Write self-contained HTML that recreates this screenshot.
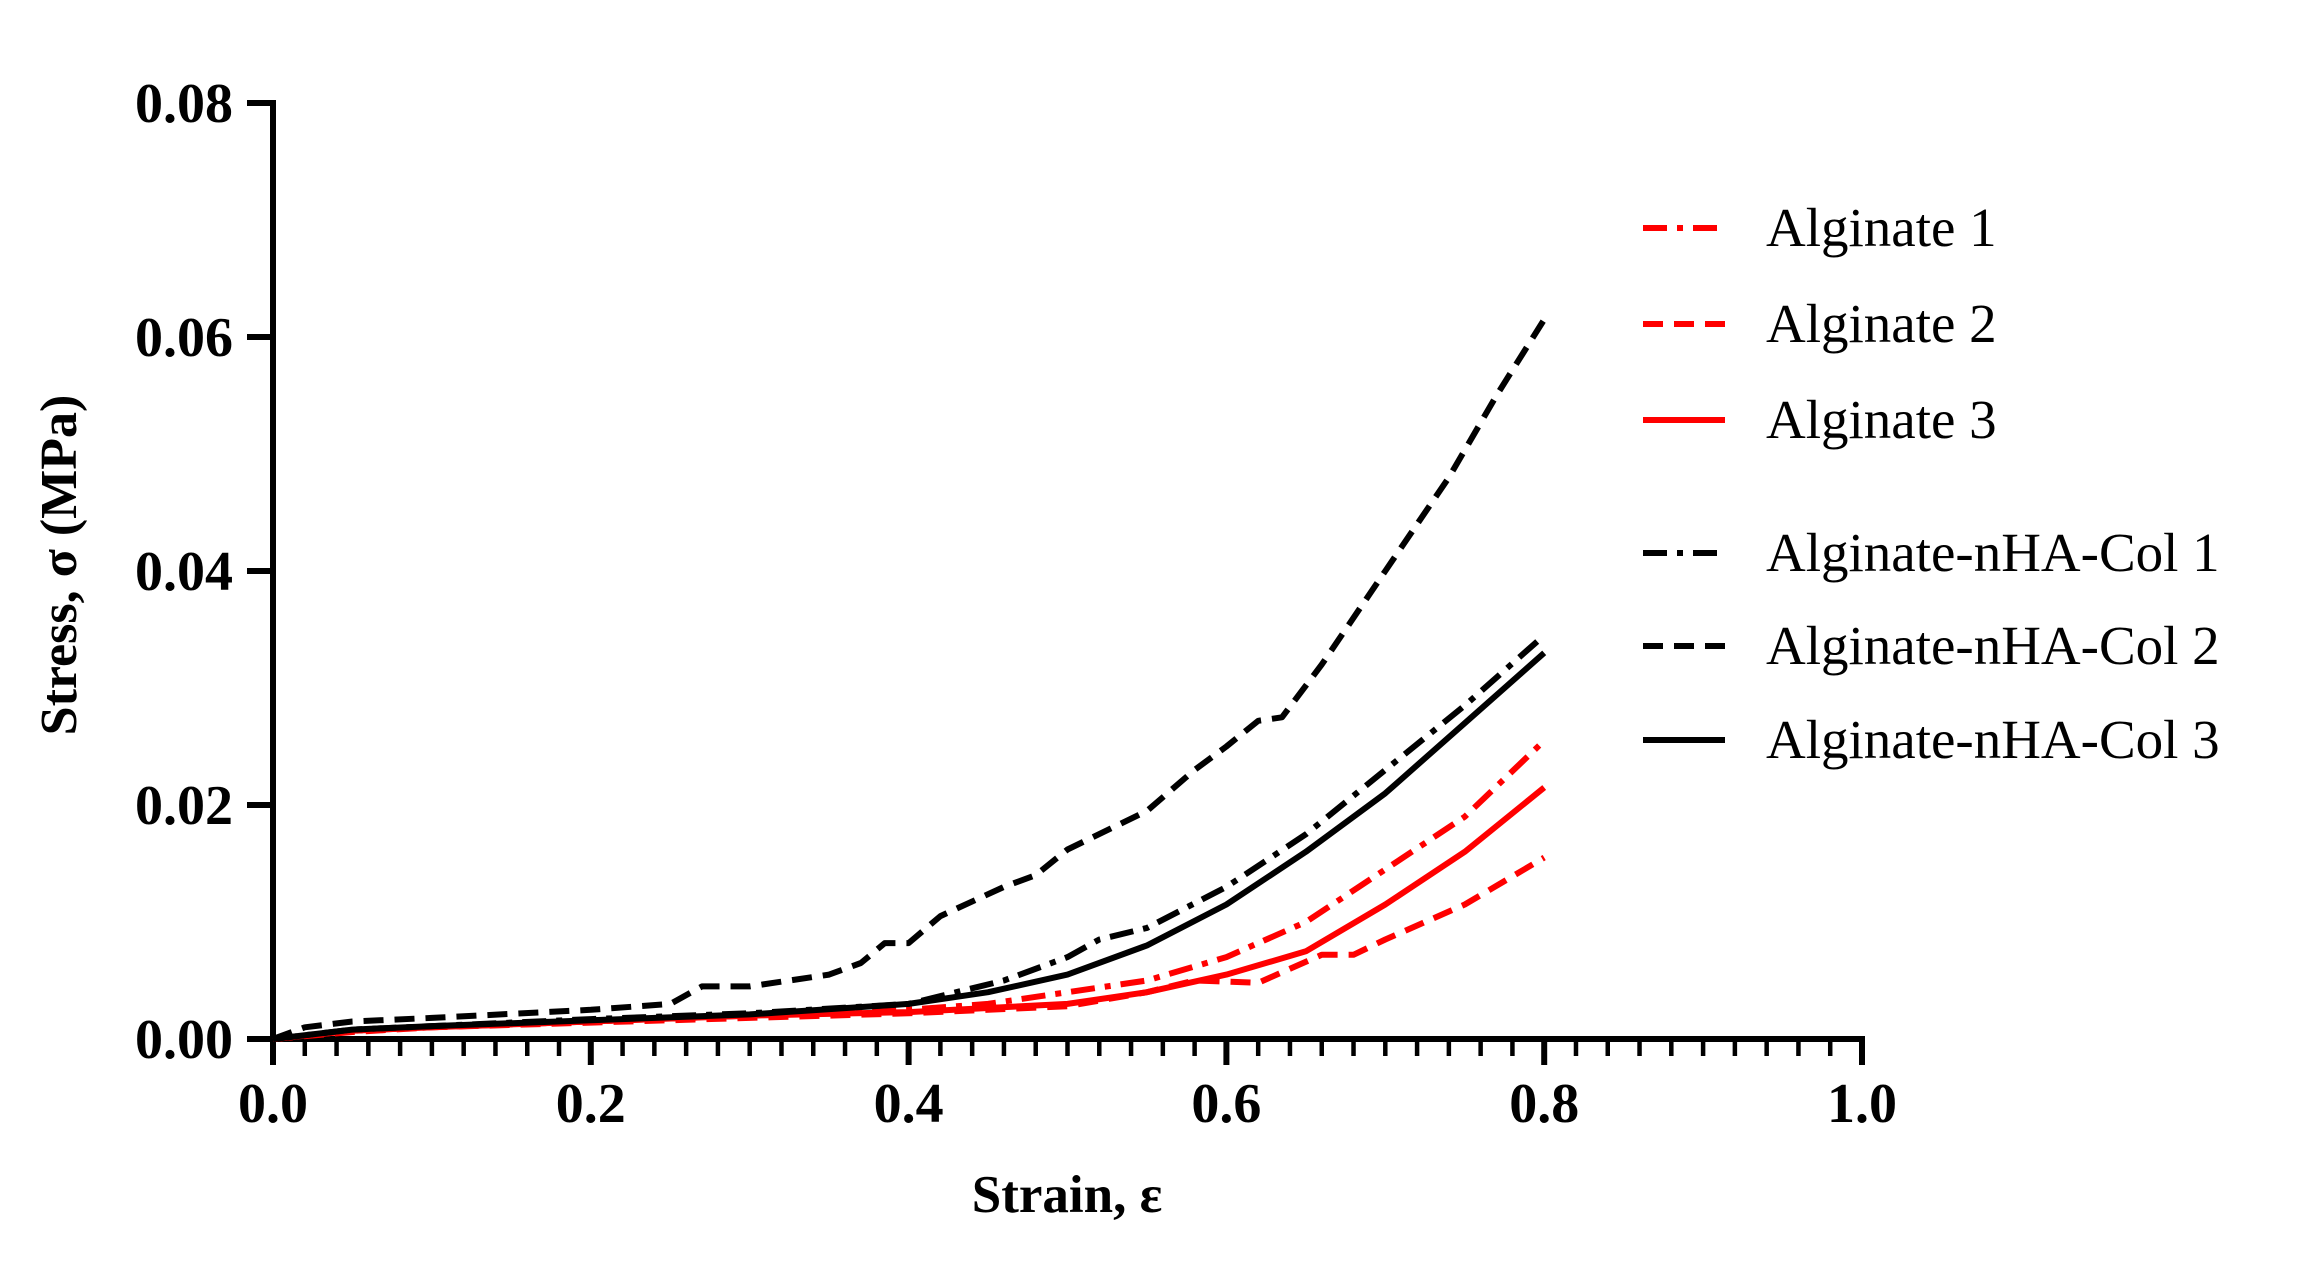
<!DOCTYPE html>
<html><head><meta charset="utf-8"><style>
html,body{margin:0;padding:0;background:#fff;}
svg{display:block;}
text{font-family:"Liberation Serif",serif;}
</style></head><body>
<svg id="chart" width="2308" height="1271" viewBox="0 0 2308 1271" xmlns="http://www.w3.org/2000/svg">
<g id="axes"></g>
<g id="series"></g>
<g id="legend"></g>
<text transform="translate(76,565) rotate(-90)" text-anchor="middle" font-weight="bold" font-size="52">Stress, σ (MPa)</text>
<text x="1067" y="1212" text-anchor="middle" font-weight="bold" font-size="53">Strain, ε</text>
</svg>
<script>
const xTicks=[0,0.2,0.4,0.6,0.8,1.0];
const xTickLabels=["0.0","0.2","0.4","0.6","0.8","1.0"];
const yTicks=[0,0.02,0.04,0.06,0.08];
const yTickLabels=["0.00","0.02","0.04","0.06","0.08"];
const seriesNames=["Alginate 1","Alginate 2","Alginate 3","Alginate-nHA-Col 1","Alginate-nHA-Col 2","Alginate-nHA-Col 3"];
const alg1X=[0,0.05,0.1,0.2,0.3,0.4,0.45,0.5,0.55,0.6,0.65,0.7,0.75,0.8];
const alg1Y=[0,0.0007,0.001,0.0015,0.002,0.0025,0.003,0.004,0.005,0.007,0.01,0.0145,0.019,0.0255];
const alg2X=[0,0.05,0.1,0.2,0.3,0.4,0.5,0.55,0.58,0.62,0.64,0.66,0.68,0.7,0.75,0.8];
const alg2Y=[0,0.0006,0.001,0.0014,0.0018,0.0022,0.0028,0.004,0.005,0.0048,0.006,0.0072,0.0072,0.0085,0.0115,0.0155];
const alg3X=[0,0.05,0.1,0.2,0.3,0.4,0.5,0.55,0.6,0.65,0.7,0.75,0.8];
const alg3Y=[0,0.0007,0.001,0.0015,0.002,0.0023,0.003,0.004,0.0055,0.0075,0.0115,0.016,0.0215];
const col1X=[0,0.05,0.1,0.2,0.3,0.4,0.43,0.46,0.5,0.52,0.55,0.6,0.65,0.7,0.75,0.8];
const col1Y=[0,0.0008,0.0011,0.0017,0.0022,0.003,0.004,0.005,0.007,0.0085,0.0095,0.013,0.0175,0.023,0.0285,0.0345];
const col2X=[0,0.02,0.05,0.1,0.2,0.25,0.27,0.3,0.35,0.37,0.385,0.4,0.42,0.46,0.48,0.5,0.55,0.58,0.6,0.62,0.635,0.66,0.7,0.74,0.77,0.8];
const col2Y=[0,0.001,0.0015,0.0018,0.0025,0.003,0.0045,0.0045,0.0055,0.0065,0.0082,0.0082,0.0105,0.013,0.014,0.0162,0.0195,0.023,0.025,0.0272,0.0275,0.032,0.04,0.048,0.055,0.0615];
const col3X=[0,0.05,0.1,0.2,0.3,0.4,0.45,0.5,0.55,0.6,0.65,0.7,0.75,0.8];
const col3Y=[0,0.0008,0.0011,0.0016,0.0021,0.003,0.004,0.0055,0.008,0.0115,0.016,0.021,0.027,0.033];

const X0=273,X1=1862,Y0=1039,Y1=103;
function sx(v){return X0+v*(X1-X0)/1.0;}
function sy(v){return Y0-v*(Y0-Y1)/0.08;}
const NS="http://www.w3.org/2000/svg";
function mk(tag,attrs,parent){const e=document.createElementNS(NS,tag);for(const k in attrs)e.setAttribute(k,attrs[k]);parent.appendChild(e);return e;}
const axes=document.getElementById('axes');
let ax=mk('line',{x1:X0-2,y1:Y0,x2:X1+3,y2:Y0,stroke:'#000','stroke-width':6},axes);


let ay=mk('line',{x1:X0,y1:Y0+3,x2:X0,y2:Y1-3,stroke:'#000','stroke-width':6},axes);


for(let i=0;i<=50;i++){
  const v=i*0.02;const major=(i%10===0);
  const t=mk('line',{x1:sx(v),y1:Y0,x2:sx(v),y2:Y0+(major?26:17),stroke:'#000','stroke-width':major?6:4.5},axes);
  
  
}
xTicks.forEach((v,i)=>{
  const t=mk('text',{x:sx(v),y:1122,'text-anchor':'middle','font-weight':'bold','font-size':56},axes);
  t.textContent=xTickLabels[i];
  
  
});
yTicks.forEach((v,i)=>{
  const l=mk('line',{x1:X0-26,y1:sy(v),x2:X0,y2:sy(v),stroke:'#000','stroke-width':6},axes);
  
  
  const t=mk('text',{x:233,y:sy(v)+19,'text-anchor':'end','font-weight':'bold','font-size':56},axes);
  t.textContent=yTickLabels[i];
  
  
});
const styles=[
 {c:'#ff0000',d:'24 10 6 10'},{c:'#ff0000',d:'20 11'},{c:'#ff0000',d:''},
 {c:'#000',d:'24 10 6 10'},{c:'#000',d:'20 11'},{c:'#000',d:''}];
const xs=[alg1X,alg2X,alg3X,col1X,col2X,col3X];
const ys=[alg1Y,alg2Y,alg3Y,col1Y,col2Y,col3Y];
const sg=document.getElementById('series');
const names=['series-alginate-1','series-alginate-2','series-alginate-3','series-nha-col-1','series-nha-col-2','series-nha-col-3'];
for(let s=0;s<6;s++){
  const pts=xs[s].map((x,i)=>sx(x).toFixed(1)+','+sy(ys[s][i]).toFixed(1)).join(' ');
  const p=mk('polyline',{points:pts,fill:'none',stroke:styles[s].c,'stroke-width':6,'stroke-dasharray':styles[s].d,'stroke-linejoin':'round'},sg);
  
  
}
const lg=document.getElementById('legend');
const rowsY=[228,324,420,553,646,740];
for(let s=0;s<6;s++){
  const g=mk('g',{},lg);
  
  
  mk('line',{x1:1643,y1:rowsY[s],x2:1725,y2:rowsY[s],stroke:styles[s].c,'stroke-width':6,'stroke-dasharray':styles[s].d},g);
  const t=mk('text',{x:1766,y:rowsY[s]+18,'font-size':55},g);
  t.textContent=seriesNames[s];
}
</script>
</body></html>
